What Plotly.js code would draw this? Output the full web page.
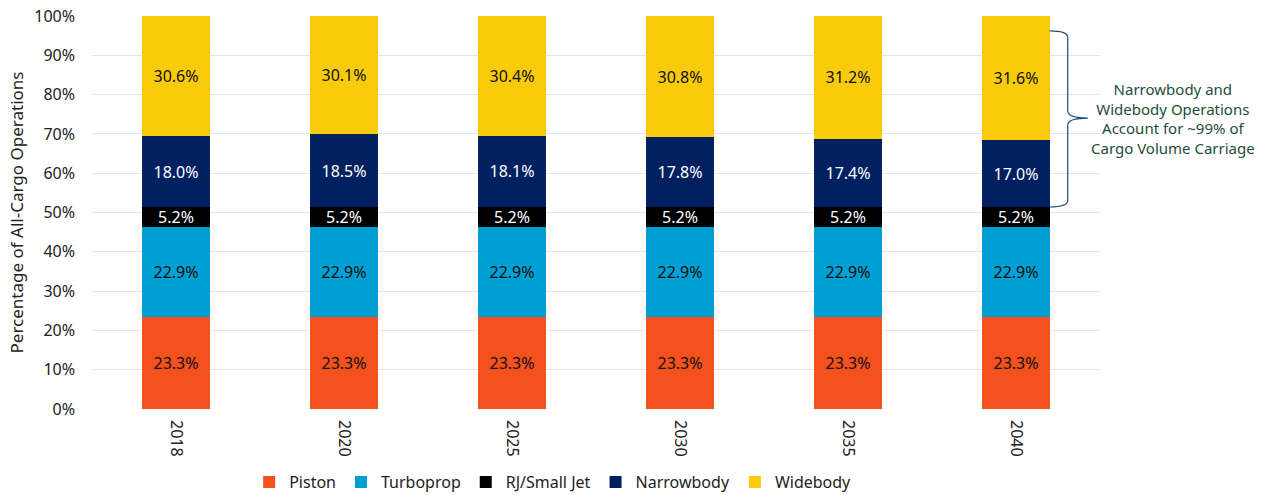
<!DOCTYPE html>
<html>
<head>
<meta charset="utf-8">
<script src="https://cdn.plot.ly/plotly-3.0.1.min.js"></script>
<style>html,body{margin:0;padding:0;background:#fff}#chart{width:1267px;height:495px}</style>
</head>
<body>
<div id="chart"></div>
<script>
var years = ['2018', '2020', '2025', '2030', '2035', '2040'];
var piston = [23.3, 23.3, 23.3, 23.3, 23.3, 23.3];
var turboprop = [22.9, 22.9, 22.9, 22.9, 22.9, 22.9];
var rjSmallJet = [5.2, 5.2, 5.2, 5.2, 5.2, 5.2];
var narrowbody = [18.0, 18.5, 18.1, 17.8, 17.4, 17.0];
var widebody = [30.6, 30.1, 30.4, 30.8, 31.2, 31.6];
var seriesNames = ['Piston', 'Turboprop', 'RJ/Small Jet', 'Narrowbody', 'Widebody'];
var yTickVals = [0, 10, 20, 30, 40, 50, 60, 70, 80, 90, 100];
var yTickText = ['0%', '10%', '20%', '30%', '40%', '50%', '60%', '70%', '80%', '90%', '100%'];
var noteText = 'Narrowbody and<br>Widebody Operations<br>Account for ~99% of<br>Cargo Volume Carriage';

var FONT = '"Noto Sans", "Open Sans", sans-serif';
var colors = ['#F5511F', '#009FD3', '#000000', '#002060', '#FACB0A'];
var textColors = ['#111111', '#111111', '#ffffff', '#ffffff', '#111111'];
var values = [piston, turboprop, rjSmallJet, narrowbody, widebody];

var traces = values.map(function (v, i) {
  return {
    type: 'bar',
    name: seriesNames[i],
    x: years,
    y: v,
    marker: {color: colors[i]},
    text: v.map(function (d) { return d.toFixed(1) + '%'; }),
    texttemplate: '%{text}',
    textposition: 'inside',
    insidetextanchor: 'middle',
    textangle: 0,
    constraintext: 'none',
    textfont: {family: FONT, size: 16, color: textColors[i]},
    hoverinfo: 'skip'
  };
});

var layout = {
  width: 1267,
  height: 495,
  barmode: 'stack',
  bargap: 0.595,
  margin: {l: 92, r: 167, t: 16, b: 86},
  paper_bgcolor: '#ffffff',
  plot_bgcolor: '#ffffff',
  font: {family: FONT, size: 16, color: '#222222'},
  showlegend: true,
  legend: {
    orientation: 'h',
    xref: 'paper', yref: 'container',
    x: 0.457, xanchor: 'center',
    y: 0.026, yanchor: 'middle',
    font: {family: FONT, size: 16, color: '#222222'},
    traceorder: 'normal',
    itemwidth: 30,
    tracegroupgap: 0
  },
  xaxis: {
    type: 'category',
    automargin: false,
    tickangle: 90,
    ticklabelstandoff: 10,
    tickfont: {family: FONT, size: 16, color: '#222222'},
    showgrid: false,
    zeroline: false,
    showline: false,
    ticks: ''
  },
  yaxis: {
    automargin: false,
    range: [0, 100],
    tickmode: 'array',
    tickvals: yTickVals,
    ticktext: yTickText,
    ticklabelstandoff: 16,
    tickfont: {family: FONT, size: 16, color: '#222222'},
    gridcolor: '#e6e6e6',
    gridwidth: 1,
    zeroline: false,
    showline: false,
    ticks: '',
    title: {text: 'Percentage of All-Cargo Operations', font: {family: FONT, size: 17, color: '#222222'}, standoff: 6}
  },
  shapes: [{
    type: 'path',
    xref: 'paper', yref: 'y',
    path: 'M 0.950 96.2 Q 0.968 96.2 0.968 94.5 L 0.968 75.8 Q 0.968 74.0 0.988 74.0 Q 0.968 74.0 0.968 72.2 L 0.968 53.1 Q 0.968 51.4 0.950 51.4',
    line: {color: '#1F4E79', width: 1.2}
  }],
  annotations: [{
    xref: 'paper', yref: 'y',
    x: 1.072, y: 74.0,
    xanchor: 'center', yanchor: 'middle',
    text: noteText,
    showarrow: false,
    align: 'center',
    font: {family: FONT, size: 15, color: '#1E4D3B'}
  }]
};

Plotly.newPlot('chart', traces, layout, {displayModeBar: false, staticPlot: true});
</script>
</body>
</html>
